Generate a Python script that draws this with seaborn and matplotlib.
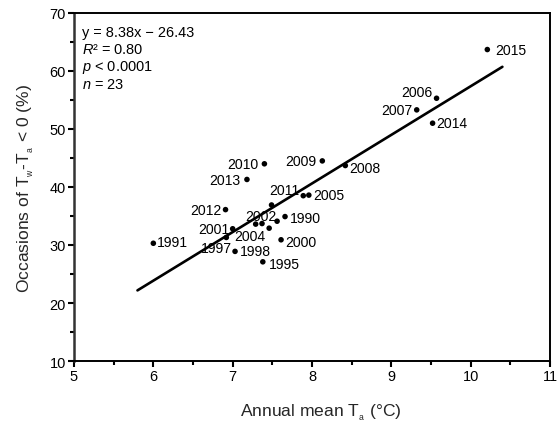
import numpy as np
import pandas as pd
import matplotlib
matplotlib.use("Agg")
import matplotlib.pyplot as plt
import seaborn as sns
from matplotlib.ticker import MultipleLocator

# ---- data ----
labels = ["1990", "1991", "1995", "1997", "1998", "2000", "2001", "2002", "2004",
          "2005", "2006", "2007", "2008", "2009", "2010", "2011", "2012", "2013",
          "2014", "2015", "", "", ""]
mean_ta = [7.66, 6.00, 7.38, 6.92, 7.03, 7.61, 7.00, 7.37, 7.46,
           7.96, 9.57, 9.32, 8.42, 8.13, 7.40, 7.49, 6.91, 7.18,
           9.52, 10.21, 7.89, 7.29, 7.56]
occasions = [34.9, 30.3, 27.1, 31.3, 28.9, 30.9, 32.8, 33.7, 32.9,
             38.6, 55.3, 53.3, 43.7, 44.5, 44.0, 36.9, 36.1, 41.3,
             51.0, 63.7, 38.5, 33.6, 34.1]
slope = 8.38
intercept = -26.43
fit_range = [5.8, 10.4]
x_ticks = [5, 6, 7, 8, 9, 10, 11]
y_ticks = [10, 20, 30, 40, 50, 60, 70]
stats_lines = ["y = 8.38x \u2212 26.43", "$\\mathit{R}$\u00b2 = 0.80",
               "$\\mathit{p}$ < 0.0001", "$\\mathit{n}$ = 23"]

df = pd.DataFrame({"x": mean_ta, "y": occasions, "label": labels})
fit = pd.DataFrame({"x": fit_range})
fit["y"] = slope * fit["x"] + intercept

# label placement (pixel offsets: dx, dy(up), ha)
label_pos = {
    "2015": (8, 0, "left"), "2006": (-4, 6.6, "right"), "2007": (-4, 0, "right"),
    "2014": (4, 0, "left"), "2009": (-6, 0, "right"), "2008": (4, -2, "left"),
    "2010": (-6, 0, "right"), "2013": (-7, -1, "right"), "2011": (-2, 15, "left"),
    "2005": (4, 0, "left"), "2012": (-4, 0, "right"), "2002": (-1, 7.5, "center"),
    "1990": (5, -1, "left"), "2001": (-3, 0, "right"), "2004": (-4, -7.4, "right"),
    "1997": (5.7, -11, "right"), "1998": (5, 0, "left"), "2000": (4, -2.6, "left"),
    "1995": (5.6, -2.3, "left"), "1991": (3.4, 1, "left"),
}

sns.set_theme(style="ticks")
plt.rcParams["font.family"] = ["Liberation Sans", "DejaVu Sans"]
plt.rcParams["mathtext.fontset"] = "custom"
plt.rcParams["mathtext.rm"] = "Liberation Sans"
plt.rcParams["mathtext.it"] = "Liberation Sans:italic"

DPI = 100
px = 72.0 / DPI
fig = plt.figure(figsize=(5.57, 4.27), dpi=DPI)
ax = fig.add_axes([74 / 557, 1 - 362 / 427, (550 - 74) / 557, (362 - 14) / 427])

sns.lineplot(data=fit, x="x", y="y", ax=ax, color="black", linewidth=1.9)
sns.scatterplot(data=df, x="x", y="y", ax=ax, color="black", s=16, edgecolor="none")

for _, r in df.iterrows():
    if r["label"] in label_pos:
        dx, dy, ha = label_pos[r["label"]]
        ax.annotate(r["label"], (r["x"], r["y"]), xytext=(dx * px, dy * px),
                    textcoords="offset points", ha=ha, va="center",
                    fontsize=14 * px, color="black")

for i, t in enumerate(stats_lines):
    ax.annotate(t, (0, 1), xycoords="axes fraction",
                xytext=(8 * px, -(19 + 17.5 * i) * px), textcoords="offset points",
                ha="left", va="center", fontsize=14.5 * px, color="black")

ax.set_xlim(5, 11)
ax.set_ylim(10, 70)
ax.set_xticks(x_ticks)
ax.set_yticks(y_ticks)
ax.xaxis.set_minor_locator(MultipleLocator(0.5))
ax.yaxis.set_minor_locator(MultipleLocator(5))
ax.tick_params(which="major", direction="out", length=4, width=1.5, colors="black",
               labelsize=14.5 * px, pad=2)
ax.tick_params(which="minor", direction="out", length=3, width=1.5, colors="black")
ax.tick_params(top=False, right=False, which="both")
for s in ["top", "right", "bottom", "left"]:
    ax.spines[s].set_visible(True)
    ax.spines[s].set_color("black")
    ax.spines[s].set_linewidth(1.4)
ax.spines["left"].set_color("#333333")
ax.spines["left"].set_linewidth(1.8)

ax.set_xlabel("Annual mean T$_{{}_\\mathregular{a}}$ (\u00b0C)", fontsize=17.5 * px)
ax.xaxis.set_label_coords((321 - 74) / 476, (362 - 402) / 348)
ax.set_ylabel("Occasions of T$_{{}_\\mathregular{w}}$-T$_{{}_\\mathregular{a}}$ < 0 (%)",
              fontsize=17.5 * px, labelpad=10)

fig.savefig("out.png", dpi=DPI)
